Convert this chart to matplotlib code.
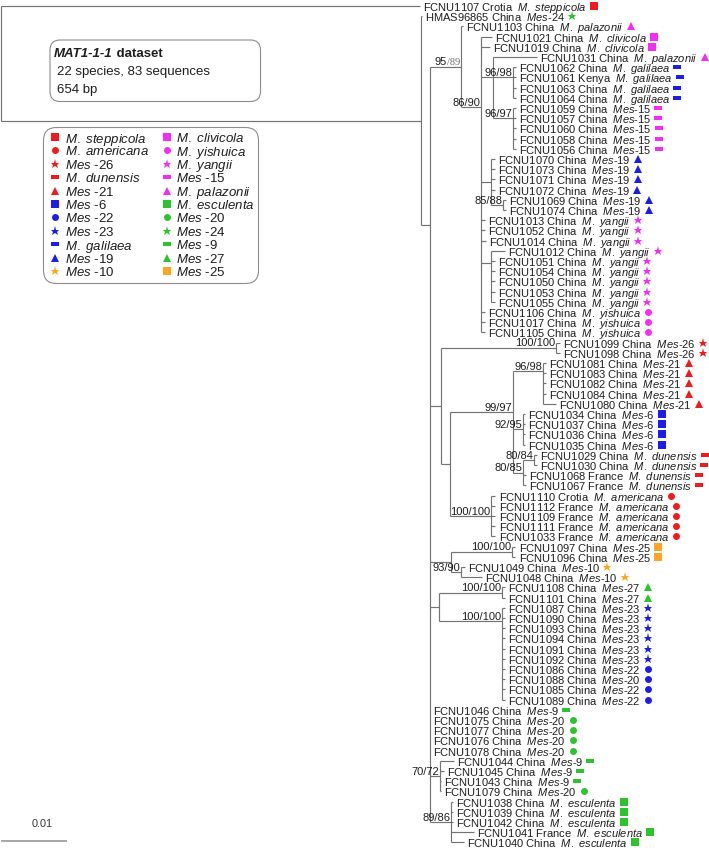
import matplotlib
matplotlib.use("Agg")
import matplotlib.pyplot as plt
import matplotlib.transforms as mtransforms
from matplotlib.collections import LineCollection
from matplotlib.patches import FancyBboxPatch
from collections import defaultdict

plt.rcParams['font.family'] = ['Liberation Sans', 'DejaVu Sans']
plt.rcParams['mathtext.fontset'] = 'custom'
plt.rcParams['mathtext.rm'] = 'Liberation Sans'
plt.rcParams['mathtext.it'] = 'Liberation Sans:italic'
plt.rcParams['mathtext.bf'] = 'Liberation Sans:bold'

# ---------------- data ----------------
# internal nodes (parent listed before child), branch lengths in subst./site
node_names = ['root', 'ingroup', 'core', 'A', 'B', 'C', 'D', 'E', 'F', 'H', 'G',
              'J', 'K', 'L', 'M', 'O', 'P', 'Q', 'R', 'N',
              'S', 'T', 'U', 'V', 'X', 'W', 'Y', 'Z']
node_parents = [None, 'root', 'ingroup', 'core', 'A', 'B', 'C', 'C', 'B', 'F', 'B',
                'core', 'J', 'J', 'L', 'M', 'M', 'M', 'Q', 'L',
                'core', 'S', 'S', 'core', 'V', 'V', 'core', 'core']
node_lengths = [0.0, 0.06364, 0.00136, 0.00470, 0.00303, 0.00182, 0.00303, 0.00303,
                0.00152, 0.00182, 0.00152,
                0.00167, 0.01742, 0.00136, 0.00955, 0.00455, 0.00152, 0.00152,
                0.00167, 0.00621,
                0.00318, 0.00924, 0.00152, 0.00136, 0.00955, 0.00955, 0.00152, 0.00318]
node_support = ['', '', '', '95/89', '86/90', '', '96/98', '96/97', '', '85/88', '',
                '', '100/100', '', '99/97', '96/98', '92/95', '80/85', '80/84', '100/100',
                '', '100/100', '93/90', '', '100/100', '100/100', '70/72', '89/86']
# rows where the drawn tree places a node away from its children's midpoint
node_row_fix = {'core': 21.5, 'B': 9.9, 'C': 7.0, 'D': 7.0, 'E': 11.0,
                'G': 25.2, 'O': 35.8, 'M': 39.8, 'W': 60.3}

leaf_ids = ['FCNU1107', 'HMAS96865', 'FCNU1103', 'FCNU1021', 'FCNU1019', 'FCNU1031',
            'FCNU1062', 'FCNU1061', 'FCNU1063', 'FCNU1064',
            'FCNU1059', 'FCNU1057', 'FCNU1060', 'FCNU1058', 'FCNU1056',
            'FCNU1070', 'FCNU1073', 'FCNU1071', 'FCNU1072', 'FCNU1069', 'FCNU1074',
            'FCNU1013', 'FCNU1052', 'FCNU1014', 'FCNU1012', 'FCNU1051', 'FCNU1054',
            'FCNU1050', 'FCNU1053', 'FCNU1055',
            'FCNU1106', 'FCNU1017', 'FCNU1105',
            'FCNU1099', 'FCNU1098',
            'FCNU1081', 'FCNU1083', 'FCNU1082', 'FCNU1084', 'FCNU1080',
            'FCNU1034', 'FCNU1037', 'FCNU1036', 'FCNU1035',
            'FCNU1029', 'FCNU1030', 'FCNU1068', 'FCNU1067',
            'FCNU1110', 'FCNU1112', 'FCNU1109', 'FCNU1111', 'FCNU1033',
            'FCNU1097', 'FCNU1096', 'FCNU1049', 'FCNU1048',
            'FCNU1108', 'FCNU1101',
            'FCNU1087', 'FCNU1090', 'FCNU1093', 'FCNU1094', 'FCNU1091', 'FCNU1092',
            'FCNU1086', 'FCNU1088', 'FCNU1085', 'FCNU1089',
            'FCNU1046', 'FCNU1075', 'FCNU1077', 'FCNU1076', 'FCNU1078',
            'FCNU1044', 'FCNU1045', 'FCNU1043', 'FCNU1079',
            'FCNU1038', 'FCNU1039', 'FCNU1042', 'FCNU1041', 'FCNU1040']
leaf_countries = ['Crotia', 'China', 'China', 'China', 'China', 'China',
                  'China', 'Kenya', 'China', 'China',
                  'China', 'China', 'China', 'China', 'China',
                  'China', 'China', 'China', 'China', 'China', 'China',
                  'China', 'China', 'China', 'China', 'China', 'China', 'China', 'China', 'China',
                  'China', 'China', 'China',
                  'China', 'China',
                  'China', 'China', 'China', 'China', 'China',
                  'China', 'China', 'China', 'China',
                  'China', 'China', 'France', 'France',
                  'Crotia', 'France', 'France', 'France', 'France',
                  'China', 'China', 'China', 'China',
                  'China', 'China',
                  'China', 'China', 'China', 'China', 'China', 'China',
                  'China', 'China', 'China', 'China',
                  'China', 'China', 'China', 'China', 'China',
                  'China', 'China', 'China', 'China',
                  'China', 'China', 'China', 'France', 'China']
leaf_taxa = ['M. steppicola', 'Mes-24', 'M. palazonii', 'M. clivicola', 'M. clivicola', 'M. palazonii',
             'M. galilaea', 'M. galilaea', 'M. galilaea', 'M. galilaea',
             'Mes-15', 'Mes-15', 'Mes-15', 'Mes-15', 'Mes-15',
             'Mes-19', 'Mes-19', 'Mes-19', 'Mes-19', 'Mes-19', 'Mes-19',
             'M. yangii', 'M. yangii', 'M. yangii', 'M. yangii', 'M. yangii', 'M. yangii',
             'M. yangii', 'M. yangii', 'M. yangii',
             'M. yishuica', 'M. yishuica', 'M. yishuica',
             'Mes-26', 'Mes-26',
             'Mes-21', 'Mes-21', 'Mes-21', 'Mes-21', 'Mes-21',
             'Mes-6', 'Mes-6', 'Mes-6', 'Mes-6',
             'M. dunensis', 'M. dunensis', 'M. dunensis', 'M. dunensis',
             'M. americana', 'M. americana', 'M. americana', 'M. americana', 'M. americana',
             'Mes-25', 'Mes-25', 'Mes-10', 'Mes-10',
             'Mes-27', 'Mes-27',
             'Mes-23', 'Mes-23', 'Mes-23', 'Mes-23', 'Mes-23', 'Mes-23',
             'Mes-22', 'Mes-20', 'Mes-22', 'Mes-22',
             'Mes-9', 'Mes-20', 'Mes-20', 'Mes-20', 'Mes-20',
             'Mes-9', 'Mes-9', 'Mes-9', 'Mes-20',
             'M. esculenta', 'M. esculenta', 'M. esculenta', 'M. esculenta', 'M. esculenta']
# symbol group of every leaf (FCNU1088 carries the Mes-22 symbol)
leaf_symbols = leaf_taxa[:66] + ['Mes-22'] + leaf_taxa[67:]
leaf_parents = (['root', 'ingroup', 'A', 'B', 'B', 'C'] + ['D'] * 4 + ['E'] * 5
                + ['F'] * 4 + ['H'] * 2 + ['B'] * 3 + ['G'] * 6 + ['B'] * 3
                + ['K'] * 2 + ['O'] * 5 + ['P'] * 4 + ['R'] * 2 + ['Q'] * 2
                + ['N'] * 5 + ['T'] * 2 + ['U'] * 2 + ['X'] * 2 + ['W'] * 10
                + ['core'] * 5 + ['Y'] * 4 + ['Z'] * 5)
leaf_lengths = ([0.06348, 0.00015, 0.00030, 0.00167, 0.00136, 0.00667]
                + [0.00045] * 4 + [0.00045] * 5
                + [0.00061] * 4 + [0.00045] * 2
                + [0.00061, 0.00061, 0.00068, 0.00212] + [0.00053] * 5
                + [0.00053] * 3
                + [0.00061] * 2 + [0.00045] * 4 + [0.00197]
                + [0.00030] * 4 + [0.00045, 0.00038, 0.00038, 0.00038]
                + [0.00068] * 5 + [0.00053] * 3 + [0.00318]
                + [0.00045] * 2 + [0.00045] * 10
                + [0.0] * 5 + [0.00212, 0.00061, 0.00015, 0.00015]
                + [0.00030] * 3 + [0.00348, 0.00197])

legend_left = ['M. steppicola', 'M. americana', 'Mes-26', 'M. dunensis', 'Mes-21', 'Mes-6',
               'Mes-22', 'Mes-23', 'M. galilaea', 'Mes-19', 'Mes-10']
legend_right = ['M. clivicola', 'M. yishuica', 'M. yangii', 'Mes-15', 'M. palazonii',
                'M. esculenta', 'Mes-20', 'Mes-24', 'Mes-9', 'Mes-27', 'Mes-25']

# ---------------- styles ----------------
RED, BLUE, MAG, GREEN, ORANGE = '#f21a1a', '#1c1ced', '#f52cf5', '#2bc42b', '#ffa51f'
group_style = {
    'M. steppicola': (RED, 'square'), 'M. americana': (RED, 'circle'), 'Mes-26': (RED, 'star'),
    'M. dunensis': (RED, 'dash'), 'Mes-21': (RED, 'triangle'),
    'Mes-6': (BLUE, 'square'), 'Mes-22': (BLUE, 'circle'), 'Mes-23': (BLUE, 'star'),
    'M. galilaea': (BLUE, 'dash'), 'Mes-19': (BLUE, 'triangle'), 'Mes-10': (ORANGE, 'star'),
    'M. clivicola': (MAG, 'square'), 'M. yishuica': (MAG, 'circle'), 'M. yangii': (MAG, 'star'),
    'Mes-15': (MAG, 'dash'), 'M. palazonii': (MAG, 'triangle'),
    'M. esculenta': (GREEN, 'square'), 'Mes-20': (GREEN, 'circle'), 'Mes-24': (GREEN, 'star'),
    'Mes-9': (GREEN, 'dash'), 'Mes-27': (GREEN, 'triangle'), 'Mes-25': (ORANGE, 'square'),
}
DASH = [(-1, -0.36), (1, -0.36), (1, 0.36), (-1, 0.36), (-1, -0.36)]
SHAPES = {'square': ('s', 5.2), 'circle': ('o', 5.0), 'star': ('*', 6.5),
          'dash': (DASH, 6.2), 'triangle': ('^', 6.0)}
LINE = '#737373'
TXT = '#1e1e1e'

W_PX, H_PX = 709, 848
PX_PER_UNIT = 6600.0   # 0.01 substitutions/site = 66 px
ROW_PX = 10.2
TOP_PX = 6.0


def taxon_tex(name, legend=False):
    if name.startswith('Mes-'):
        return r'$\mathit{Mes}$' + (' -' if legend else '-') + name[4:]
    return r'$\mathit{' + name.replace(' ', r'\ ') + '}$'


def draw_symbol(ax, x, y, group, transform):
    color, shape = group_style[group]
    marker, size = SHAPES[shape]
    ax.plot([x], [y], linestyle='none', marker=marker, ms=size, mew=0,
            color=color, transform=transform, clip_on=False)


# ---------------- layout ----------------
parent = dict(zip(node_names, node_parents))
parent.update(zip(leaf_ids, leaf_parents))
length = dict(zip(node_names, node_lengths))
length.update(zip(leaf_ids, leaf_lengths))
children = defaultdict(list)
for n in node_names[1:] + leaf_ids:
    children[parent[n]].append(n)

xpos = {'root': 0.0}
for n in node_names[1:] + leaf_ids:
    xpos[n] = xpos[parent[n]] + length[n]

ypos = {lid: float(i) for i, lid in enumerate(leaf_ids)}


def place(n):
    if n in ypos:
        return ypos[n]
    ys = [place(c) for c in children[n]]
    ypos[n] = node_row_fix.get(n, (min(ys) + max(ys)) / 2)
    return ypos[n]


place('root')

fig = plt.figure(figsize=(W_PX / 100, H_PX / 100), dpi=100)
ax = fig.add_axes([0, 0, 1, 1])
ax.set_autoscale_on(False)
ax.set_xlim(-1 / PX_PER_UNIT, (W_PX - 1) / PX_PER_UNIT)
ax.set_ylim((H_PX - TOP_PX) / ROW_PX, -TOP_PX / ROW_PX)
ax.axis('off')

# pixel coordinates measured from the top-left corner
pix = mtransforms.Affine2D().scale(0.01, -0.01).translate(0, H_PX / 100) + fig.dpi_scale_trans

# branches
segs = []
for n, p in parent.items():
    if p is not None:
        segs.append([(xpos[p], ypos[n]), (xpos[n], ypos[n])])
for n, ch in children.items():
    ys = [ypos[c] for c in ch]
    segs.append([(xpos[n], min(ys)), (xpos[n], max(ys))])
ax.add_collection(LineCollection(segs, colors=LINE, linewidths=0.85))

# support values ("95/89": second value drawn faint, as in the figure)
for n, s in zip(node_names, node_support):
    if not s:
        continue
    if n == 'A':
        first, second = s.split('/')
        faint = ax.annotate('/' + second, (xpos[n], ypos[n]), xytext=(-0.6, 1.0),
                            textcoords='offset points', ha='right', va='baseline',
                            fontsize=7.5, family='Liberation Serif', color='#6a6a6a')
        ax.annotate(first, xy=(0, 0), xycoords=faint, ha='right', va='bottom',
                    fontsize=8, color=TXT)
    else:
        ax.annotate(s, (xpos[n], ypos[n]), xytext=(-0.6, 1.0), textcoords='offset points',
                    ha='right', va='baseline', fontsize=8, color=TXT)

# leaf labels
leaf_labels = []
for i, lid in enumerate(leaf_ids):
    s = f'{lid} {leaf_countries[i]}  {taxon_tex(leaf_taxa[i])}'
    t = ax.annotate(s, (xpos[lid], ypos[lid]), xytext=(2.2, 0), textcoords='offset points',
                    ha='left', va='center_baseline', fontsize=8, color=TXT)
    leaf_labels.append(t)

# info box
ax.add_patch(FancyBboxPatch((50, 40), 210.5, 61.5, boxstyle='round,pad=0,rounding_size=10',
                            transform=pix, fc='white', ec='#8c8c8c', lw=0.8))
t1 = ax.text(54, 54, 'MAT1-1-1', transform=pix, fontsize=9.5, fontweight='bold',
             fontstyle='italic', va='center', color=TXT)
ax.annotate(' dataset', xy=(1, 0), xycoords=t1, va='bottom', fontsize=9.5,
            fontweight='bold', color=TXT)
ax.text(57, 72, '22 species, 83 sequences', transform=pix, fontsize=9.5, va='center', color=TXT)
ax.text(57, 90, '654 bp', transform=pix, fontsize=9.5, va='center', color=TXT)

# legend box
ax.add_patch(FancyBboxPatch((43.5, 127.5), 215, 156, boxstyle='round,pad=0,rounding_size=13',
                            transform=pix, fc='white', ec='#8c8c8c', lw=0.8))
for col, (mx, tx) in zip([legend_left, legend_right], [(55, 65), (166.5, 175.5)]):
    for k, g in enumerate(col):
        y = 137 + 13.4 * k
        draw_symbol(ax, mx, y, g, pix)
        ax.text(tx, y, taxon_tex(g, legend=True), transform=pix, fontsize=9.5,
                va='center_baseline', ha='left', color=TXT)

# scale bar
bar_row = (840.7 - TOP_PX) / ROW_PX
ax.plot([0, 0.01], [bar_row, bar_row], color='#a6a6a6', lw=1.4, solid_capstyle='butt')
ax.text(0.0062, (824 - TOP_PX) / ROW_PX, '0.01', ha='center', va='center',
        fontsize=7.8, color='#333333')

# symbols after the leaf labels
fig.canvas.draw()
renderer = fig.canvas.get_renderer()
to_data = ax.transData.inverted()
for t, lid, g in zip(leaf_labels, leaf_ids, leaf_symbols):
    bb = t.get_window_extent(renderer)
    xd = to_data.transform((bb.x1 + 7, 0))[0]
    draw_symbol(ax, xd, ypos[lid], g, ax.transData)

fig.savefig('out.png', dpi=100)
